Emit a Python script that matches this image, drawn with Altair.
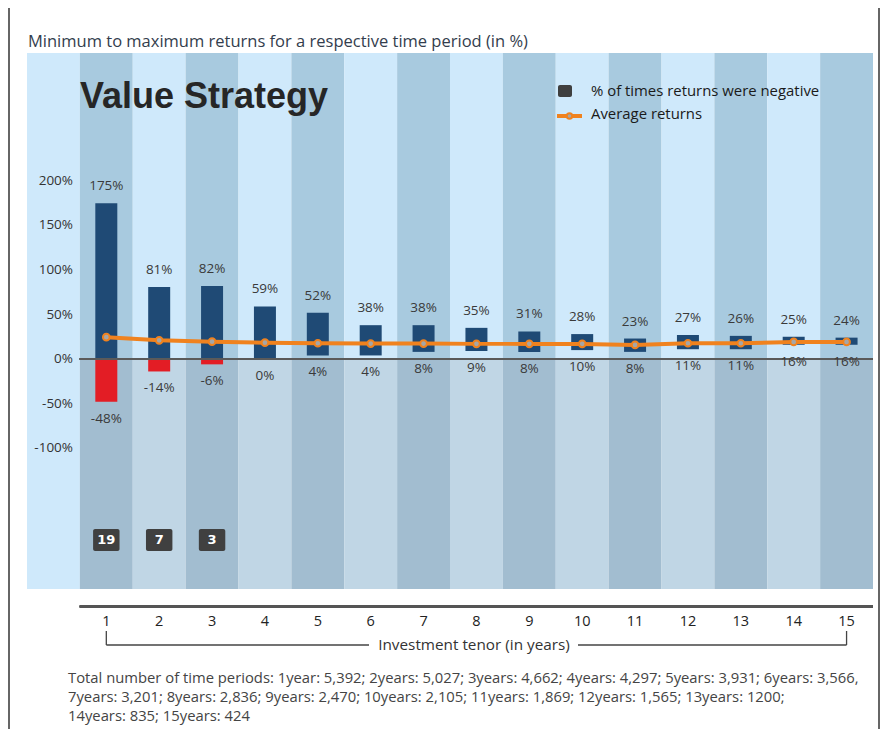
import altair as alt
import pandas as pd

# ---------------- data ----------------
tenor = list(range(1, 16))
max_ret = [175, 81, 82, 59, 52, 38, 38, 35, 31, 28, 23, 27, 26, 25, 24]
min_ret = [-48, -14, -6, 0, 4, 4, 8, 9, 8, 10, 8, 11, 11, 16, 16]
avg_ret = [24.5, 21, 19.5, 18.4, 17.7, 17.3, 17.3, 17, 17, 17, 15.8, 17.7, 17.7, 19.2, 19.2]
neg_tenor = [1, 2, 3]
neg_pct = [19, 7, 3]
y_ticks = [200, 150, 100, 50, 0, -50, -100]
columns = list(range(1, 16))

title_text = "Minimum to maximum returns for a respective time period (in %)"
heading = "Value Strategy"
legend_labels = ["% of times returns were negative", "Average returns"]
x_title = "Investment tenor (in years)"
footnote = [
    "Total number of time periods: 1year: 5,392; 2years: 5,027; 3years: 4,662; 4years: 4,297; 5years: 3,931; 6years: 3,566,",
    "7years: 3,201; 8years: 2,836; 9years: 2,470; 10years: 2,105; 11years: 1,869; 12years: 1,565; 13years: 1200;",
    "14years: 835; 15years: 424",
]

# ---------------- layout ----------------
W, H = 846, 536
xs = alt.Scale(domain=[-0.5, 15.5], nice=False, zero=False)
ys = alt.Scale(domain=[-258.4, 343.8], nice=False, zero=False)

BLUE = "#1f4a75"
RED = "#e31d25"
ORANGE = "#f0821e"
FONT = "Open Sans"

df = pd.DataFrame({"tenor": tenor, "max_ret": max_ret, "min_ret": min_ret, "avg_ret": avg_ret})
cols = pd.DataFrame({"col": columns})
neg_df = pd.DataFrame({"tenor": neg_tenor, "neg": neg_pct})
tick_df = pd.DataFrame({"v": y_ticks})


def X(field):
    return alt.X(field, scale=xs, axis=None)


def Y(field):
    return alt.Y(field, scale=ys, axis=None)


def text_layer(txt, x, y, **kw):
    return alt.Chart(pd.DataFrame({"t": [txt]})).mark_text(**kw).encode(
        x=alt.value(x), y=alt.value(y), text="t:N"
    )


layers = []

# first (axis) column background
layers.append(
    text_layer("", 0, 0).mark_rect(color="#cfe9fb").encode(
        x=alt.value(0), x2=alt.value(W / 16), y=alt.value(0), y2=alt.value(H)
    )
)

stripe = alt.Chart(cols).transform_calculate(
    x0="datum.col - 0.5", x1="datum.col + 0.5", zero="0"
)
layers.append(
    stripe.transform_calculate(c="datum.col % 2 == 1 ? '#a8cadf' : '#cfe9fb'")
    .mark_rect()
    .encode(x=X("x0:Q"), x2="x1:Q", y=Y("zero:Q"), y2=alt.value(0),
            color=alt.Color("c:N", scale=None, legend=None))
)
layers.append(
    stripe.transform_calculate(c="datum.col % 2 == 1 ? '#a2bdd0' : '#c0d6e5'")
    .mark_rect()
    .encode(x=X("x0:Q"), x2="x1:Q", y=Y("zero:Q"), y2=alt.value(H),
            color=alt.Color("c:N", scale=None, legend=None))
)

base = alt.Chart(df).transform_calculate(
    x0="datum.tenor - 0.208", x1="datum.tenor + 0.208",
    lo="max(datum.min_ret, 0)", zero="0",
    maxlab="datum.max_ret + '%'", minlab="datum.min_ret + '%'",
)

# blue bars
layers.append(
    base.mark_rect(color=BLUE).encode(x=X("x0:Q"), x2="x1:Q", y=Y("lo:Q"), y2="max_ret:Q")
)
# red bars
layers.append(
    base.transform_filter("datum.min_ret < 0").mark_rect(color=RED)
    .encode(x=X("x0:Q"), x2="x1:Q", y=Y("min_ret:Q"), y2="zero:Q")
)
# zero line
layers.append(
    base.mark_rule(color="#5a5a5a", strokeWidth=2).encode(
        x=alt.value(W / 16), x2=alt.value(W), y=Y("zero:Q")
    )
)
# average line
layers.append(
    base.mark_line(color=ORANGE, strokeWidth=4).encode(x=X("tenor:Q"), y=Y("avg_ret:Q"))
)
layers.append(
    base.mark_point(shape="circle", filled=True, fill="#a6a6a6", stroke=ORANGE,
                    strokeWidth=2, size=45, opacity=1)
    .encode(x=X("tenor:Q"), y=Y("avg_ret:Q"))
)
# value labels
layers.append(
    base.mark_text(font=FONT, fontSize=13.5, color="#3a3a3a", dy=-17, baseline="middle")
    .encode(x=X("tenor:Q"), y=Y("max_ret:Q"), text="maxlab:N")
)
layers.append(
    base.mark_text(font=FONT, fontSize=13.5, color="#3a3a3a", dy=17, baseline="middle")
    .encode(x=X("tenor:Q"), y=Y("min_ret:Q"), text="minlab:N")
)

# y tick labels
layers.append(
    alt.Chart(tick_df).transform_calculate(lab="datum.v + '%'")
    .mark_text(font=FONT, fontSize=13.5, color="#333333", align="right", baseline="middle")
    .encode(x=alt.value(46), y=Y("v:Q"), text="lab:N")
)

# negative-count badges
neg_base = alt.Chart(neg_df).transform_calculate(
    x0="datum.tenor - 0.25", x1="datum.tenor + 0.25"
)
layers.append(
    neg_base.mark_rect(color="#404040", cornerRadius=2).encode(
        x=X("x0:Q"), x2="x1:Q", y=alt.value(476), y2=alt.value(498)
    )
)
layers.append(
    neg_base.mark_text(font="DejaVu Sans", fontWeight="bold", fontSize=13, color="white",
                       baseline="middle")
    .encode(x=X("tenor:Q"), y=alt.value(487), text="neg:N")
)

# x axis line + labels
layers.append(
    base.mark_rule(color="#555555", strokeWidth=2).encode(
        x=alt.value(W / 16), x2=alt.value(W), y=alt.value(553.5)
    )
)
layers.append(
    base.mark_text(font=FONT, fontSize=14.5, color="#222222", baseline="middle")
    .encode(x=X("tenor:Q"), y=alt.value(569), text="tenor:N")
)

# bracket under the axis
ends = base.transform_filter("datum.tenor == 1 || datum.tenor == 15")
layers.append(
    ends.mark_rule(color="#444444", strokeWidth=1.3).encode(
        x=X("tenor:Q"), y=alt.value(578), y2=alt.value(592)
    )
)
layers.append(
    base.transform_filter("datum.tenor == 1").mark_rule(color="#444444", strokeWidth=1.3)
    .encode(x=X("tenor:Q"), x2=alt.value(342), y=alt.value(592))
)
layers.append(
    base.transform_filter("datum.tenor == 15").mark_rule(color="#444444", strokeWidth=1.3)
    .encode(x=X("tenor:Q"), x2=alt.value(551), y=alt.value(592))
)
layers.append(text_layer(x_title, 447, 592, font=FONT, fontSize=15.3, color="#333333",
                         baseline="middle"))

# titles
layers.append(text_layer(title_text, 1, -11, font=FONT, fontSize=16.5, color="#333d4d",
                         align="left", baseline="middle"))
layers.append(text_layer(heading, 53, 44, font="Liberation Sans", fontSize=36,
                         fontWeight="bold", color="#262626", align="left", baseline="middle"))

# legend
layers.append(
    text_layer("", 0, 0).mark_rect(color="#3f3f3f", cornerRadius=2).encode(
        x=alt.value(531), x2=alt.value(545), y=alt.value(32), y2=alt.value(44)
    )
)
layers.append(
    text_layer("", 0, 0).mark_rule(color=ORANGE, strokeWidth=4).encode(
        x=alt.value(530), x2=alt.value(555), y=alt.value(63)
    )
)
layers.append(
    text_layer("", 0, 0).mark_point(shape="circle", filled=True, fill="#a6a6a6", stroke=ORANGE,
                                    strokeWidth=2, size=30, opacity=1)
    .encode(x=alt.value(542.5), y=alt.value(63))
)
layers.append(text_layer(legend_labels[0], 564, 39, font=FONT, fontSize=14.9, color="#1a1a1a",
                         align="left", baseline="middle"))
layers.append(text_layer(legend_labels[1], 564, 62, font=FONT, fontSize=14.9, color="#1a1a1a",
                         align="left", baseline="middle"))

# footnote
for i, line in enumerate(footnote):
    layers.append(text_layer(line, 41, 626 + 19 * i, font=FONT, fontSize=14.8, color="#444444",
                             align="left", baseline="middle"))

# frame lines
layers.append(
    text_layer("", 0, 0).mark_rule(color="#666666", strokeWidth=2).encode(
        x=alt.value(-18), y=alt.value(-45), y2=alt.value(676)
    )
)
layers.append(
    text_layer("", 0, 0).mark_rule(color="#666666", strokeWidth=2).encode(
        x=alt.value(852), y=alt.value(-45), y2=alt.value(676)
    )
)

chart = (
    alt.layer(*layers)
    .properties(
        width=W,
        height=H,
        padding={"left": 19, "top": 45, "right": 8, "bottom": 140},
        autosize=alt.AutoSizeParams(type="none"),
        background="white",
    )
    .configure_view(stroke=None)
)

chart.save("out.html", embed_options={"renderer": "svg", "actions": False})
